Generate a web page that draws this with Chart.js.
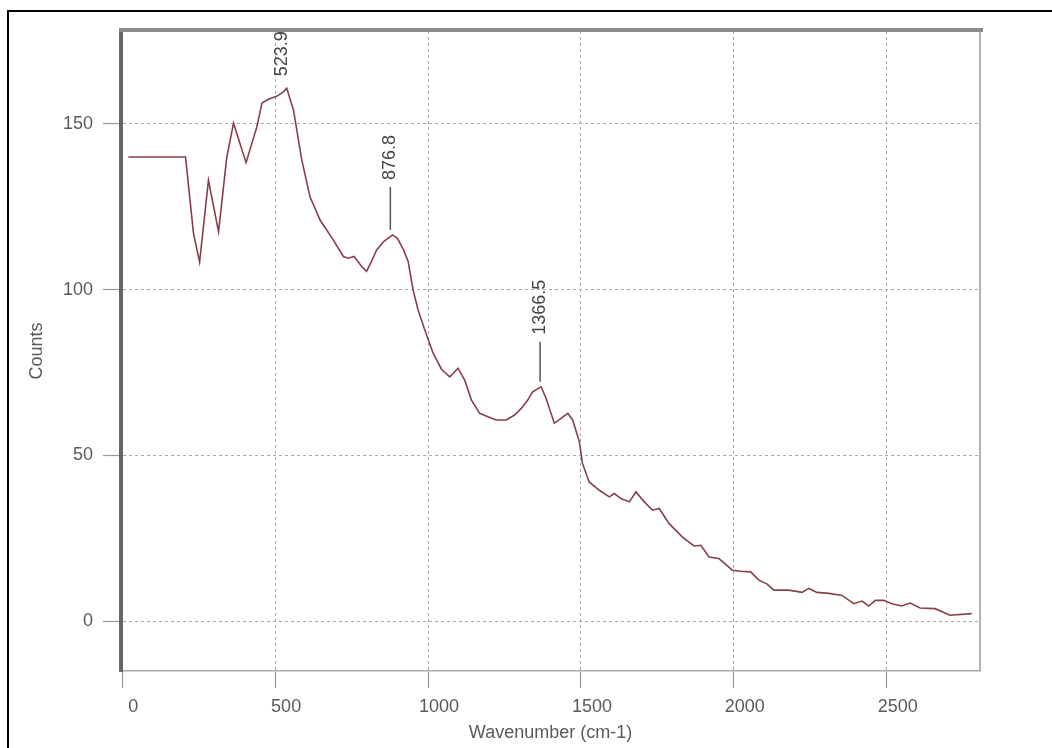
<!DOCTYPE html>
<html>
<head>
<meta charset="utf-8">
<script src="https://cdn.jsdelivr.net/npm/chart.js@4.4.1/dist/chart.umd.min.js"></script>
<style>
  html, body { margin: 0; padding: 0; background: #fff; }
  #wrap { width: 1052px; height: 748px; }
</style>
</head>
<body>
<div id="wrap"><canvas id="spectrum" width="1052" height="748"></canvas></div>
<script>
// Raman trace (wavenumber in cm-1, counts)
const wavenumbers = [20, 207, 233, 253, 282, 315, 342, 364, 405, 440, 457, 480, 505, 525, 538,
  560, 587, 614, 647, 690, 723, 739, 758, 783, 799, 815, 832, 855, 884, 900, 920, 935, 951,
  967, 989, 1016, 1044, 1071, 1098, 1120, 1142, 1169, 1196, 1223, 1256, 1283, 1305, 1326,
  1342, 1370, 1386, 1413, 1435, 1457, 1473, 1495, 1505, 1527, 1560, 1593, 1609, 1631, 1658,
  1680, 1707, 1734, 1756, 1788, 1832, 1870, 1892, 1919, 1951, 1968, 1995, 2022, 2055, 2082,
  2109, 2131, 2180, 2223, 2245, 2272, 2310, 2354, 2392, 2419, 2441, 2463, 2490, 2517, 2549,
  2577, 2609, 2658, 2707, 2778];
const counts = [140, 140, 117, 108.3, 133, 117.5, 140, 150.2, 138.3, 149, 156.3, 157.5, 158.3,
  159.5, 160.7, 154.2, 139.2, 128, 121, 115, 110, 109.5, 110, 107, 105.5, 108.5, 112, 114.5,
  116.5, 115.5, 112, 108.5, 100, 94, 88, 81, 76, 73.7, 76.3, 72.7, 66.7, 62.7, 61.7, 60.7,
  60.7, 62.2, 64.2, 66.7, 69.2, 70.7, 67.2, 59.7, 61.2, 62.7, 60.7, 54.1, 47.6, 42, 39.5,
  37.5, 38.5, 37, 36, 39, 36, 33.5, 34, 29.5, 25.4, 22.7, 22.9, 19.4, 18.9, 17.6, 15.4, 15.1,
  14.9, 12.4, 11.2, 9.4, 9.4, 8.7, 9.9, 8.7, 8.4, 7.8, 5.3, 6.1, 4.6, 6.3, 6.3, 5.3, 4.6, 5.5,
  4, 3.8, 1.8, 2.3];

const xTicks = [0, 500, 1000, 1500, 2000, 2500];
const yTicks = [0, 50, 100, 150];

// peak markers
const peakLabels = ['523.9', '876.8', '1366.5'];
const peakPositions = [523.9, 876.8, 1366.5];
const peakHeights = [160.7, 116.5, 70.7];
const leaderLengths = [0, 43, 40];

const FONT = '"Liberation Sans", Arial, sans-serif';
Chart.defaults.font.family = FONT;
Chart.defaults.font.size = 18;
Chart.defaults.color = '#5a5a5a';

const plotDecor = {
    id: 'plotDecor',
    beforeDraw(chart) {
        const ctx = chart.ctx;
        ctx.save();
        ctx.strokeStyle = '#000';
        ctx.lineWidth = 2;
        ctx.strokeRect(8, 11, 1100, 800);
        ctx.restore();
    },
    afterDraw(chart) {
        const { ctx, chartArea: a, scales: { x, y } } = chart;
        ctx.save();
        // heavy top rule and thin right edge of the plot box
        ctx.fillStyle = '#8c8c8c';
        ctx.fillRect(a.left - 2, a.top - 3, a.right - a.left + 5, 4);
        ctx.strokeStyle = '#9a9a9a';
        ctx.lineWidth = 1.5;
        ctx.beginPath();
        ctx.moveTo(a.right, a.top);
        ctx.lineTo(a.right, a.bottom);
        ctx.stroke();

        ctx.fillStyle = '#444';
        ctx.strokeStyle = '#555';
        ctx.font = '18px ' + FONT;
        ctx.textAlign = 'left';
        ctx.textBaseline = 'middle';
        peakLabels.forEach((label, i) => {
            const px = x.getPixelForValue(peakPositions[i]);
            const py = y.getPixelForValue(peakHeights[i]) - 5;
            if (leaderLengths[i]) {
                ctx.beginPath();
                ctx.moveTo(px, py);
                ctx.lineTo(px, py - leaderLengths[i]);
                ctx.stroke();
            }
            ctx.save();
            ctx.translate(px, py - leaderLengths[i] - 7);
            ctx.rotate(-Math.PI / 2);
            ctx.fillText(label, 0, 0);
            ctx.restore();
        });
        ctx.restore();
    }
};

new Chart(document.getElementById('spectrum'), {
    type: 'line',
    data: {
        datasets: [{
            data: wavenumbers.map((w, i) => ({ x: w, y: counts[i] })),
            borderColor: '#874049',
            borderWidth: 1.6,
            pointRadius: 0,
            tension: 0
        }]
    },
    options: {
        responsive: false,
        animation: false,
        devicePixelRatio: 1,
        layout: { padding: { left: 0, top: 31, right: 72, bottom: 0 } },
        plugins: { legend: { display: false }, tooltip: { enabled: false } },
        scales: {
            x: {
                type: 'linear',
                min: -4,
                max: 2805,
                afterFit: s => { s.height = 77; },
                afterBuildTicks: s => { s.ticks = xTicks.map(v => ({ value: v })); },
                ticks: {
                    callback: v => String(v),
                    maxRotation: 0,
                    autoSkip: false,
                    labelOffset: 11,
                    padding: 8
                },
                grid: {
                    color: '#a8a8a8',
                    tickLength: 17,
                    tickColor: '#999',
                    tickBorderDash: [],
                    tickWidth: 1.2
                },
                border: { color: '#aaa', width: 1.5, dash: [3, 3] },
                title: {
                    display: true,
                    text: 'Wavenumber (cm-1)',
                    padding: { top: 0, bottom: 4 }
                }
            },
            y: {
                min: -15,
                max: 178,
                afterFit: s => { s.width = 121; },
                afterBuildTicks: s => { s.ticks = yTicks.map(v => ({ value: v })); },
                ticks: { callback: v => String(v), padding: 10 },
                grid: {
                    color: '#a8a8a8',
                    tickLength: 18,
                    tickColor: '#999',
                    tickBorderDash: [],
                    tickWidth: 1.2
                },
                border: { color: '#666', width: 4, dash: [3, 3] },
                title: {
                    display: true,
                    text: 'Counts',
                    padding: { top: 26, bottom: 0 }
                }
            }
        }
    },
    plugins: [plotDecor]
});
</script>
</body>
</html>
